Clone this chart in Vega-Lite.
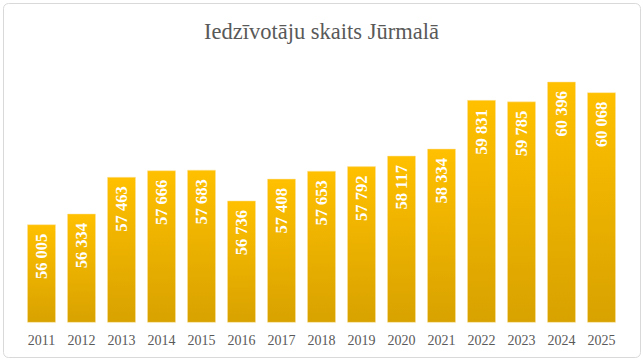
{
  "$schema": "https://vega.github.io/schema/vega-lite/v6.json",
  "width": 637,
  "height": 354,
  "autosize": {"type": "none"},
  "padding": {"top": 3, "left": 3, "right": 3, "bottom": 5},
  "background": "white",
  "title": {
    "text": "Iedzīvotāju skaits Jūrmalā",
    "font": "Liberation Serif",
    "fontSize": 22.5,
    "fontWeight": "normal",
    "color": "#595959",
    "anchor": "middle",
    "frame": "group",
    "baseline": "alphabetic",
    "offset": -58.5
  },
  "config": {
    "view": {"stroke": "#d9d9d9", "strokeWidth": 1, "cornerRadius": 5},
    "locale": {
      "number": {"decimal": ",", "thousands": " ", "grouping": [3], "currency": ["", " €"]}
    }
  },
  "data": {
    "values": [
      {"year": "2011", "value": 56005},
      {"year": "2012", "value": 56334},
      {"year": "2013", "value": 57463},
      {"year": "2014", "value": 57666},
      {"year": "2015", "value": 57683},
      {"year": "2016", "value": 56736},
      {"year": "2017", "value": 57408},
      {"year": "2018", "value": 57653},
      {"year": "2019", "value": 57792},
      {"year": "2020", "value": 58117},
      {"year": "2021", "value": 58334},
      {"year": "2022", "value": 59831},
      {"year": "2023", "value": 59785},
      {"year": "2024", "value": 60396},
      {"year": "2025", "value": 60068}
    ]
  },
  "encoding": {
    "x": {
      "field": "year",
      "type": "ordinal",
      "sort": null,
      "scale": {"paddingInner": 0.3, "paddingOuter": 0.6125},
      "axis": {
        "title": null,
        "orient": "bottom",
        "offset": -26,
        "labelPadding": 2,
        "labelAngle": 0,
        "labelFont": "Liberation Serif",
        "labelFontSize": 14,
        "labelColor": "#595959",
        "domain": false,
        "ticks": false,
        "grid": false
      }
    },
    "y": {
      "field": "value",
      "type": "quantitative",
      "scale": {"domain": [51932, 62828], "zero": false, "nice": false},
      "axis": null
    }
  },
  "layer": [
    {
      "mark": {
        "type": "bar",
        "color": {
          "gradient": "linear",
          "x1": 0, "y1": 0, "x2": 0, "y2": 1,
          "stops": [
            {"offset": 0, "color": "#FFC000"},
            {"offset": 1, "color": "#D8A200"}
          ]
        },
        "stroke": "#FDE3A0",
        "strokeWidth": 0.5
      },
      "encoding": {
        "y2": {"datum": 53000}
      }
    },
    {
      "mark": {
        "type": "text",
        "angle": 270,
        "align": "right",
        "baseline": "middle",
        "yOffset": 9,
        "font": "Liberation Serif",
        "fontSize": 16.5,
        "fontWeight": "bold",
        "color": "white"
      },
      "encoding": {
        "text": {"field": "value", "type": "quantitative", "format": ",d"}
      }
    }
  ]
}
